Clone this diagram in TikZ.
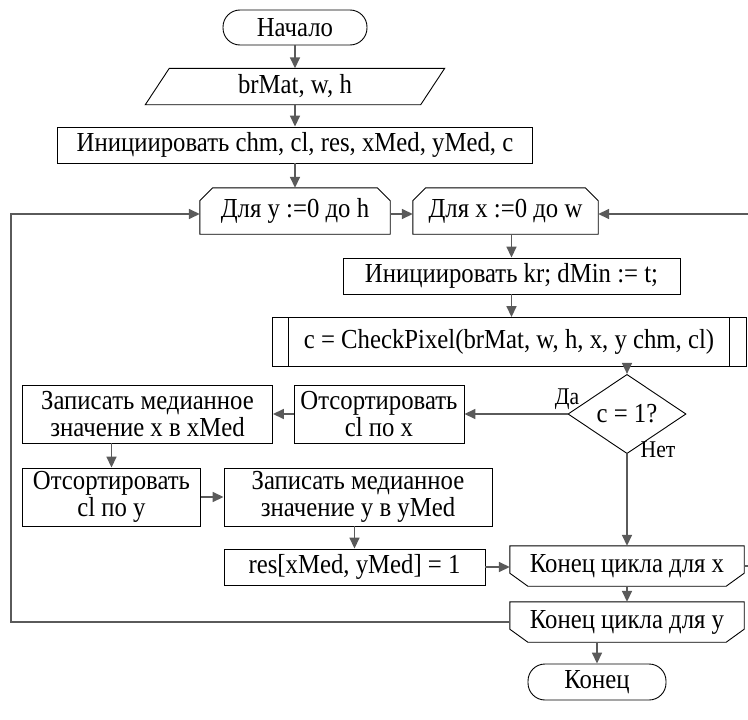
\documentclass[tikz,border=0pt]{standalone}
\usepackage{fontspec}
\setmainfont{Liberation Serif}[FakeStretch=0.9]
\usetikzlibrary{arrows.meta,shapes.geometric}
\definecolor{lc}{HTML}{5A5A5A}
\begin{document}
\begin{tikzpicture}[x=1pt,y=-1pt,
  font=\fontsize{27.5}{26.5}\selectfont,
  box/.style={draw=black,line width=0.9pt,inner sep=0pt,align=center},
  plain/.style={inner sep=0pt,align=center},
  term/.style={draw=black,line width=0.9pt,inner sep=0pt,rounded corners=17pt},
  outl/.style={draw=black,line width=0.9pt},
  conn/.style={draw=lc,line width=1.6pt,-{Triangle[length=11pt,width=10pt]}},
  lbl/.style={inner sep=0pt,font=\fontsize{24}{24}\selectfont}]
\useasboundingbox (0,0) rectangle (748,720);

% nodes
\node[term,minimum width=144pt,minimum height=35pt] (start) at (295,27.5) {Начало};
\node[plain,minimum width=275pt,minimum height=36pt] (in) at (295,86.5) {brMat, w, h};
\draw[outl] ([xshift=12pt]in.north west) -- ([xshift=12pt]in.north east) -- ([xshift=-12pt]in.south east) -- ([xshift=-12pt]in.south west) -- cycle;
\node[box,minimum width=475pt,minimum height=36pt] (init) at (295,145) {Инициировать chm, cl, res, xMed, yMed, c};

\node[plain,minimum width=190pt,minimum height=46pt] (fory) at (295,211) {Для y :=0 до h};
\draw[outl] (fory.south west) -- ([yshift=-13pt]fory.north west) -- ([xshift=13pt]fory.north west) -- ([xshift=-13pt]fory.north east) -- ([yshift=-13pt]fory.north east) -- (fory.south east) -- cycle;
\node[plain,minimum width=185pt,minimum height=46pt] (forx) at (505.5,211) {Для x :=0 до w};
\draw[outl] (forx.south west) -- ([yshift=-13pt]forx.north west) -- ([xshift=13pt]forx.north west) -- ([xshift=-13pt]forx.north east) -- ([yshift=-13pt]forx.north east) -- (forx.south east) -- cycle;

\node[box,minimum width=337pt,minimum height=36pt] (kr) at (511.5,276) {Инициировать kr; dMin := t;};
\node[box,minimum width=474pt,minimum height=49pt] (check) at (509,342) {c = CheckPixel(brMat, w, h, x, y chm, cl)};
\draw[outl] ([xshift=17pt]check.north west) -- ([xshift=17pt]check.south west);
\draw[outl] ([xshift=-17pt]check.north east) -- ([xshift=-17pt]check.south east);

\node[draw=black,line width=0.9pt,diamond,inner sep=0pt,minimum width=118pt,minimum height=60pt] (dec) at (627,414) {c = 1?};
\node[lbl] (da) at (567,399) {Да};
\node[lbl] (net) at (658,450) {Нет};

\node[box,minimum width=170pt,minimum height=58pt] (sortx) at (379,414) {Отсортировать\\cl по x};
\node[box,minimum width=250pt,minimum height=58pt] (zapx) at (147.5,414) {Записать медианное\\значение x в xMed};
\node[box,minimum width=178pt,minimum height=58pt] (sorty) at (111.5,497) {Отсортировать\\cl по y};
\node[box,minimum width=268pt,minimum height=58pt] (zapy) at (358,497) {Записать медианное\\значение y в yMed};
\node[box,minimum width=261pt,minimum height=36pt] (res) at (354.5,567) {res[xMed, yMed] = 1};

\node[plain,minimum width=234pt,minimum height=40pt] (kx) at (627,566) {Конец цикла для x};
\draw[outl] (kx.north west) -- (kx.north east) -- ([yshift=13pt]kx.south east) -- ([xshift=-18pt]kx.south east) -- ([xshift=18pt]kx.south west) -- ([yshift=13pt]kx.south west) -- cycle;
\node[plain,minimum width=234pt,minimum height=40pt] (ky) at (627,622) {Конец цикла для y};
\draw[outl] (ky.north west) -- (ky.north east) -- ([yshift=13pt]ky.south east) -- ([xshift=-18pt]ky.south east) -- ([xshift=18pt]ky.south west) -- ([yshift=13pt]ky.south west) -- cycle;
\node[term,minimum width=138pt,minimum height=36pt] (end) at (597,682) {Конец};

\coordinate (L) at (11,0);
\coordinate (R) at (760,0);

% connectors
\draw[conn] (start) -- (in);
\draw[conn] (in) -- (init);
\draw[conn] (init) -- (fory);
\draw[conn] ([yshift=-3pt]fory.east) -- ([yshift=-3pt]forx.west);
\draw[conn] (kr.north |- forx.south) -- (kr.north);
\draw[conn] (kr.south) -- (kr.south |- check.north);
\draw[conn] (dec.north |- check.south) -- (dec.north);
\draw[conn] (dec.west) -- (sortx.east);
\draw[conn] (sortx.west) -- (zapx.east);
\draw[conn] (sorty.north |- zapx.south) -- (sorty.north);
\draw[conn] (sorty.east) -- (zapy.west);
\draw[conn] (res.north |- zapy.south) -- (res.north);
\draw[conn] (res.east) -- (res.east -| kx.west);
\draw[conn] (dec.south) -- (kx.north);
\draw[conn] (kx.south) -- (ky.north);
\draw[conn] (ky.south -| end.north) -- (end.north);
\draw[conn] (ky.west) -- (ky.west -| L) |- ([yshift=-3pt]fory.west);
\draw[conn] (kx.east) -- (kx.east -| R) |- ([yshift=-3pt]forx.east);
\end{tikzpicture}
\end{document}
